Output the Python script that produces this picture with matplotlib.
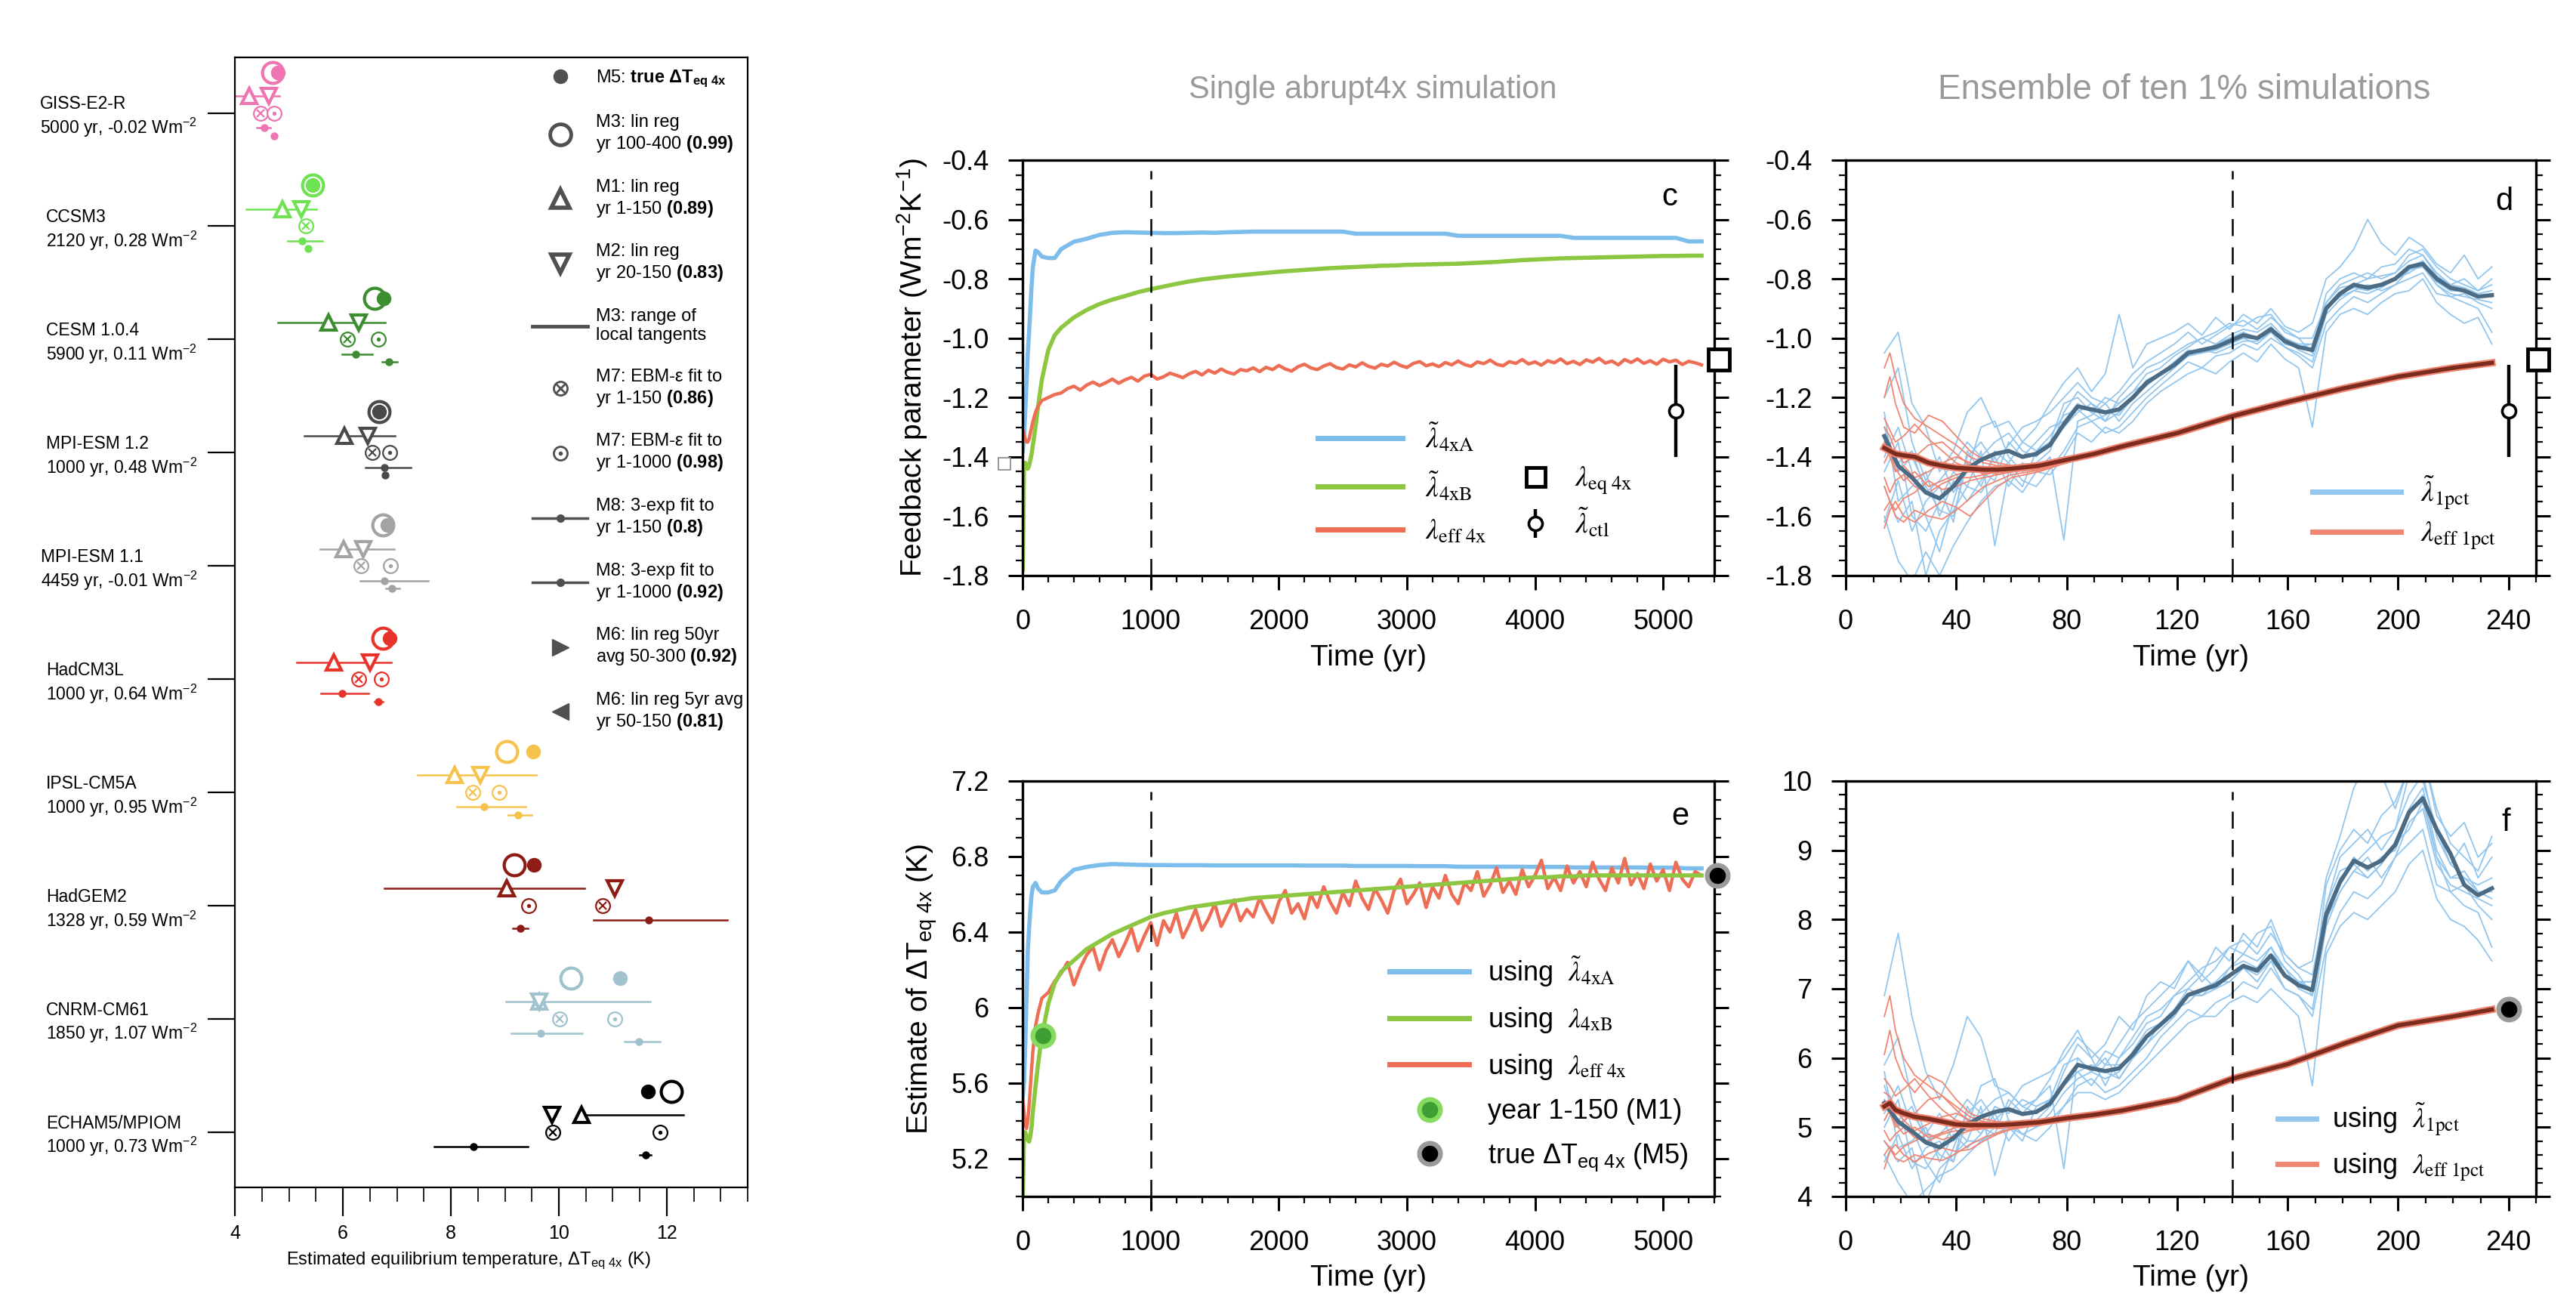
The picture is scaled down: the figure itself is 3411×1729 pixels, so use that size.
import matplotlib
matplotlib.use("Agg")
import matplotlib.pyplot as plt
import numpy as np
from matplotlib.lines import Line2D
from matplotlib.ticker import MultipleLocator

plt.rcParams['font.family'] = ['Liberation Sans', 'DejaVu Sans']
plt.rcParams['mathtext.fontset'] = 'custom'
plt.rcParams['mathtext.rm'] = 'Liberation Sans'
plt.rcParams['mathtext.it'] = 'Liberation Sans:italic'
plt.rcParams['mathtext.bf'] = 'Liberation Sans:bold'
plt.rcParams['mathtext.sf'] = 'Liberation Sans'

# ---------------- left panel: estimates of dT_eq4x per model ----------------
models = ['GISS-E2-R', 'CCSM3', 'CESM 1.0.4', 'MPI-ESM 1.2', 'MPI-ESM 1.1',
          'HadCM3L', 'IPSL-CM5A', 'HadGEM2', 'CNRM-CM61', 'ECHAM5/MPIOM']
run_years = ['5000', '2120', '5900', '1000', '4459', '1000', '1000', '1328', '1850', '1000']
imbalance = ['-0.02', '0.28', '0.11', '0.48', '-0.01', '0.64', '0.95', '0.59', '1.07', '0.73']
model_colors = ['#EE75B2', '#6EE352', '#3C8C30', '#4A4A4A', '#A3A3A3',
                '#E8332A', '#F6C24C', '#8C1C14', '#A0C2CE', '#000000']

dT_true = [4.80, 5.44, 6.75, 6.67, 6.83, 6.86, 9.52, 9.54, 11.13, 11.65]   # M5
dT_m3 = [4.70, 5.44, 6.58, 6.67, 6.74, 6.74, 9.03, 9.18, 10.22, 12.08]
m3_lo = [3.90, 4.21, 4.79, 5.29, 5.58, 5.15, 7.39, 6.77, 9.02, 10.35]
m3_hi = [4.83, 5.51, 6.78, 6.96, 6.95, 6.90, 9.58, 10.48, 11.69, 12.31]
dT_m1 = [4.27, 4.88, 5.74, 6.03, 6.02, 5.83, 8.07, 9.04, 9.64, 10.42]
dT_m2 = [4.63, 5.23, 6.29, 6.46, 6.38, 6.50, 8.55, 11.04, 9.64, 9.87]
dT_m7a = [4.47, 5.32, 6.08, 6.54, 6.33, 6.29, 8.40, 10.81, 10.01, 9.89]
dT_m7b = [4.72, np.nan, 6.66, 6.86, 6.88, 6.71, 8.90, 9.44, 11.04, 11.87]
dT_m8a = [4.54, 5.25, 6.24, 6.77, 6.77, 5.99, 8.62, 11.66, 9.66, 8.42]
m8a_lo = [4.41, 4.98, 5.99, 6.42, 6.32, 5.60, 8.11, 10.64, 9.12, 7.69]
m8a_hi = [4.66, 5.62, 6.55, 7.26, 7.58, 6.48, 9.39, 13.12, 10.44, 9.42]
dT_m8b = [4.73, 5.35, 6.85, 6.78, 6.91, 6.66, 9.25, 9.28, 11.48, 11.61]
m8b_lo = [4.70, 5.33, 6.72, 6.76, 6.80, 6.59, 9.06, 9.15, 11.21, 11.50]
m8b_hi = [4.76, 5.37, 7.00, 6.80, 7.05, 6.74, 9.50, 9.42, 11.87, 11.70]

# ---------------- panels c / e: single abrupt4x run ----------------
t_early = [1, 10, 20, 30, 40, 50, 60, 70, 80, 100, 120, 150, 200, 250]
t4x = t_early + list(range(300, 5301, 100))
t4x_noisy = t_early + list(range(300, 5301, 50))

lam_4xA = [-1.38, -1.33, -1.25, -1.15, -1.05, -0.98, -0.90, -0.82, -0.76, -0.705, -0.71, -0.725, -0.73, -0.73,
           -0.70, -0.675, -0.665, -0.652, -0.645, -0.643, -0.644, -0.645, -0.646, -0.646, -0.645, -0.644,
           -0.645, -0.643, -0.642, -0.641, -0.641, -0.641, -0.641, -0.641, -0.641, -0.641, -0.641,
           -0.648, -0.648, -0.648, -0.648, -0.648, -0.648, -0.648, -0.648,
           -0.655, -0.655, -0.655, -0.655, -0.655, -0.655, -0.655, -0.655, -0.655,
           -0.662, -0.662, -0.662, -0.662, -0.662, -0.662, -0.662, -0.662, -0.662, -0.674, -0.674]
lam_4xB = [-1.78, -1.43, -1.42, -1.43, -1.44, -1.43, -1.41, -1.39, -1.36, -1.30, -1.23, -1.14, -1.04, -0.99,
           -0.965, -0.93, -0.905, -0.885, -0.87, -0.858, -0.845, -0.835, -0.826, -0.817,
           -0.809, -0.802, -0.797, -0.792, -0.788, -0.784, -0.780, -0.776, -0.773, -0.770,
           -0.767, -0.764, -0.762, -0.760, -0.758, -0.756, -0.755, -0.753, -0.752, -0.751,
           -0.750, -0.749, -0.747, -0.745, -0.743, -0.740, -0.737, -0.735, -0.733, -0.731,
           -0.730, -0.729, -0.728, -0.727, -0.726, -0.725, -0.724, -0.723, -0.723, -0.722, -0.722]
lam_eff4x = [-1.31, -1.32, -1.34, -1.35, -1.35, -1.34, -1.32, -1.30, -1.28, -1.25, -1.23, -1.21, -1.20, -1.19,
             -1.185, -1.17, -1.162, -1.175, -1.158, -1.148, -1.16, -1.15, -1.138, -1.152,
             -1.14, -1.132, -1.145, -1.128, -1.122, -1.138, -1.13, -1.118, -1.125, -1.133,
             -1.12, -1.112, -1.124, -1.108, -1.118, -1.104, -1.115, -1.121, -1.106, -1.11,
             -1.10, -1.113, -1.098, -1.106, -1.092, -1.104, -1.111, -1.096, -1.088, -1.10,
             -1.106, -1.094, -1.086, -1.099, -1.104, -1.09, -1.097, -1.083, -1.095, -1.101,
             -1.088, -1.094, -1.081, -1.092, -1.099, -1.085, -1.079, -1.093, -1.087, -1.096,
             -1.082, -1.09, -1.077, -1.089, -1.095, -1.08, -1.086, -1.074, -1.088, -1.093,
             -1.079, -1.085, -1.072, -1.087, -1.08, -1.091, -1.076, -1.083, -1.07, -1.086,
             -1.078, -1.089, -1.073, -1.081, -1.068, -1.084, -1.077, -1.09, -1.072, -1.082,
             -1.07, -1.085, -1.076, -1.088, -1.071, -1.08, -1.074, -1.089, -1.078, -1.083,
             -1.09]
lam_eq4x = -1.071
lam_ctl, lam_ctl_lo, lam_ctl_hi = -1.245, -1.401, -1.090
lam_small_square = -1.423

T_4xA = [5.53, 5.60, 5.80, 6.05, 6.30, 6.42, 6.52, 6.60, 6.64, 6.66, 6.63, 6.61, 6.61, 6.62,
         6.67, 6.73, 6.745, 6.755, 6.76, 6.758, 6.756, 6.755, 6.755, 6.754, 6.754, 6.754,
         6.753, 6.753, 6.753, 6.753, 6.753, 6.753, 6.753, 6.752, 6.752, 6.752, 6.752,
         6.750, 6.750, 6.750, 6.750, 6.750, 6.749, 6.749, 6.749,
         6.746, 6.746, 6.746, 6.746, 6.746, 6.746, 6.745, 6.745, 6.745,
         6.742, 6.742, 6.742, 6.742, 6.742, 6.742, 6.741, 6.741, 6.741, 6.737, 6.737]
T_4xB = [5.00, 5.33, 5.34, 5.32, 5.30, 5.29, 5.32, 5.37, 5.45, 5.58, 5.70, 5.85, 6.02, 6.13,
         6.19, 6.25, 6.31, 6.35, 6.39, 6.42, 6.45, 6.48, 6.50, 6.515,
         6.53, 6.54, 6.55, 6.56, 6.57, 6.58, 6.585, 6.59, 6.595, 6.60,
         6.605, 6.61, 6.615, 6.62, 6.625, 6.63, 6.635, 6.64, 6.645, 6.65,
         6.655, 6.66, 6.665, 6.67, 6.675, 6.68, 6.685, 6.69, 6.69, 6.695,
         6.695, 6.70, 6.70, 6.70, 6.70, 6.70, 6.70, 6.70, 6.70, 6.70, 6.70]
T_eff4x = [5.51, 5.45, 5.38, 5.36, 5.40, 5.48, 5.58, 5.68, 5.77, 5.90, 5.97, 6.05, 6.08, 6.14,
           6.18, 6.24, 6.12, 6.21, 6.28, 6.32, 6.20, 6.30, 6.36, 6.27,
           6.34, 6.42, 6.30, 6.38, 6.45, 6.33, 6.46, 6.40, 6.50, 6.37,
           6.44, 6.52, 6.41, 6.47, 6.55, 6.43, 6.50, 6.57, 6.46, 6.52,
           6.48, 6.58, 6.51, 6.45, 6.56, 6.62, 6.50, 6.55, 6.47, 6.60,
           6.53, 6.64, 6.56, 6.50, 6.61, 6.54, 6.67, 6.58, 6.52, 6.63,
           6.57, 6.50, 6.62, 6.68, 6.55, 6.60, 6.66, 6.53, 6.64, 6.58,
           6.70, 6.60, 6.55, 6.66, 6.62, 6.72, 6.59, 6.65, 6.74, 6.61,
           6.67, 6.60, 6.73, 6.64, 6.70, 6.78, 6.63, 6.69, 6.62, 6.75,
           6.66, 6.72, 6.64, 6.77, 6.68, 6.62, 6.74, 6.66, 6.79, 6.65,
           6.71, 6.63, 6.76, 6.67, 6.73, 6.62, 6.77, 6.68, 6.64, 6.72,
           6.70]
T_m1_year, T_m1 = 160, 5.85
T_true = 6.70

# ---------------- panels d / f: ensemble of ten 1% runs ----------------
ens_years = list(range(14, 235, 5))
lam_1pct_mean = [-1.33, -1.43, -1.47, -1.52, -1.54, -1.50, -1.44, -1.41, -1.39, -1.38,
                 -1.40, -1.39, -1.36, -1.29, -1.23, -1.24, -1.25, -1.24, -1.20, -1.15,
                 -1.12, -1.09, -1.05, -1.04, -1.03, -1.01, -0.99, -1.00, -0.97, -1.01,
                 -1.03, -1.04, -0.90, -0.85, -0.82, -0.83, -0.82, -0.80, -0.76, -0.75,
                 -0.80, -0.83, -0.84, -0.86, -0.855]
lam_1pct_members = [
    [-1.05, -0.98, -1.22, -1.30, -1.45, -1.38, -1.25, -1.20, -1.30, -1.28, -1.35, -1.30, -1.22, -1.15, -1.10,
     -1.18, -1.12, -0.92, -1.10, -1.02, -1.00, -0.98, -0.95, -0.99, -0.93, -0.97, -0.92, -0.95, -0.90, -0.96,
     -0.98, -0.95, -0.80, -0.76, -0.70, -0.60, -0.68, -0.72, -0.66, -0.69, -0.75, -0.78, -0.72, -0.80, -0.76],
    [-1.60, -1.75, -1.82, -1.72, -1.80, -1.70, -1.62, -1.55, -1.50, -1.48, -1.52, -1.45, -1.46, -1.40, -1.32,
     -1.35, -1.30, -1.32, -1.28, -1.22, -1.18, -1.15, -1.12, -1.10, -1.12, -1.08, -1.05, -1.08, -1.02, -1.07,
     -1.10, -1.30, -0.98, -0.92, -0.90, -0.92, -0.88, -0.85, -0.84, -0.80, -0.88, -0.92, -0.95, -0.93, -1.02],
    [-1.20, -1.10, -1.35, -1.48, -1.40, -1.52, -1.45, -1.30, -1.28, -1.40, -1.45, -1.42, -1.38, -1.25, -1.18,
     -1.22, -1.28, -1.20, -1.15, -1.10, -1.08, -1.05, -1.02, -1.00, -0.98, -0.95, -0.96, -0.93, -0.92, -0.98,
     -1.00, -1.05, -0.85, -0.80, -0.78, -0.80, -0.76, -0.75, -0.70, -0.72, -0.78, -0.82, -0.80, -0.84, -0.82],
    [-1.50, -1.62, -1.55, -1.80, -1.65, -1.58, -1.50, -1.52, -1.45, -1.42, -1.48, -1.50, -1.44, -1.38, -1.30,
     -1.28, -1.32, -1.30, -1.25, -1.20, -1.16, -1.12, -1.08, -1.10, -1.06, -1.05, -1.02, -1.04, -1.00, -1.03,
     -1.06, -1.10, -0.95, -0.90, -0.86, -0.88, -0.85, -0.82, -0.80, -0.78, -0.85, -0.86, -0.88, -0.90, -0.98],
    [-1.40, -1.30, -1.45, -1.60, -1.72, -1.55, -1.40, -1.35, -1.42, -1.36, -1.30, -1.28, -1.25, -1.20, -1.15,
     -1.20, -1.22, -1.18, -1.12, -1.08, -1.05, -1.02, -0.98, -1.02, -0.99, -0.96, -0.94, -0.97, -0.93, -0.97,
     -1.00, -1.00, -0.88, -0.82, -0.80, -0.78, -0.80, -0.78, -0.72, -0.70, -0.76, -0.80, -0.82, -0.84, -0.80],
    [-1.25, -1.55, -1.50, -1.45, -1.60, -1.48, -1.55, -1.48, -1.40, -1.50, -1.42, -1.45, -1.40, -1.68, -1.28,
     -1.26, -1.22, -1.28, -1.22, -1.18, -1.14, -1.10, -1.06, -1.05, -1.04, -1.02, -1.00, -1.02, -0.98, -1.03,
     -1.05, -1.08, -0.92, -0.87, -0.84, -0.85, -0.83, -0.80, -0.78, -0.75, -0.82, -0.86, -0.85, -0.88, -0.90],
    [-1.62, -1.48, -1.65, -1.55, -1.50, -1.62, -1.38, -1.45, -1.48, -1.35, -1.40, -1.35, -1.30, -1.28, -1.22,
     -1.25, -1.20, -1.22, -1.18, -1.12, -1.10, -1.06, -1.03, -1.00, -1.02, -0.99, -0.97, -0.98, -0.95, -1.00,
     -1.02, -1.02, -0.88, -0.83, -0.82, -0.80, -0.79, -0.78, -0.74, -0.72, -0.79, -0.82, -0.83, -0.85, -0.84],
    [-1.35, -1.42, -1.38, -1.52, -1.48, -1.42, -1.35, -1.40, -1.35, -1.32, -1.38, -1.40, -1.35, -1.22, -1.20,
     -1.25, -1.28, -1.25, -1.20, -1.14, -1.12, -1.08, -1.04, -1.05, -1.02, -1.00, -0.98, -1.00, -0.96, -1.02,
     -1.03, -1.02, -0.90, -0.85, -0.83, -0.84, -0.82, -0.80, -0.76, -0.74, -0.80, -0.84, -0.84, -0.86, -0.86],
    [-1.45, -1.35, -1.60, -1.65, -1.55, -1.45, -1.50, -1.38, -1.70, -1.45, -1.50, -1.38, -1.35, -1.30, -1.25,
     -1.22, -1.25, -1.26, -1.20, -1.16, -1.12, -1.10, -1.05, -1.04, -1.03, -1.02, -1.00, -1.00, -0.97, -1.00,
     -1.04, -1.06, -0.90, -0.86, -0.84, -0.82, -0.84, -0.82, -0.77, -0.76, -0.82, -0.85, -0.86, -0.87, -0.88],
    [-1.30, -1.45, -1.40, -1.50, -1.58, -1.60, -1.42, -1.50, -1.38, -1.42, -1.35, -1.38, -1.33, -1.26, -1.24,
     -1.28, -1.26, -1.22, -1.18, -1.15, -1.12, -1.08, -1.05, -1.04, -1.05, -1.03, -1.01, -1.01, -0.98, -1.01,
     -1.03, -1.04, -0.90, -0.86, -0.82, -0.83, -0.82, -0.80, -0.76, -0.74, -0.81, -0.84, -0.84, -0.86, -0.86],
]
T_1pct_mean = [5.35, 5.08, 4.94, 4.78, 4.71, 4.84, 5.04, 5.15, 5.22, 5.26,
               5.19, 5.22, 5.34, 5.63, 5.90, 5.85, 5.81, 5.85, 6.05, 6.31,
               6.48, 6.66, 6.91, 6.98, 7.05, 7.19, 7.33, 7.26, 7.48, 7.19,
               7.05, 6.98, 8.07, 8.54, 8.85, 8.75, 8.85, 9.08, 9.55, 9.75,
               9.30, 8.95, 8.50, 8.35, 8.45]
T_1pct_members = [
    [6.9, 7.8, 6.6, 5.8, 5.4, 5.9, 6.6, 6.3, 5.6, 5.5, 5.3, 5.4, 5.7, 6.1, 6.4, 6.0, 6.2, 6.6, 6.4, 6.9, 7.1, 7.0,
     7.4, 7.2, 7.6, 7.4, 7.8, 7.6, 8.0, 7.5, 7.3, 7.4, 8.6, 9.2, 9.9, 10.3, 10.1, 9.6, 10.2, 10.4, 9.5, 9.2, 9.4,
     8.9, 9.1],
    [4.6, 4.2, 3.9, 4.1, 4.3, 4.4, 4.6, 4.8, 4.9, 5.0, 4.9, 5.0, 5.1, 5.3, 5.5, 5.5, 5.4, 5.5, 5.7, 5.9, 6.1, 6.3,
     6.5, 6.6, 6.6, 6.8, 6.9, 6.8, 7.0, 6.8, 6.6, 5.6, 7.5, 7.9, 8.1, 8.0, 8.2, 8.4, 8.8, 9.0, 8.3, 8.0, 7.9,
     7.7, 7.4],
    [5.9, 6.3, 5.4, 4.9, 5.2, 4.8, 5.0, 5.6, 5.7, 5.1, 5.0, 5.1, 5.3, 5.8, 6.2, 6.0, 5.6, 6.0, 6.3, 6.6, 6.7, 6.9,
     7.1, 7.3, 7.4, 7.6, 7.5, 7.8, 7.9, 7.4, 7.2, 6.9, 8.5, 9.0, 9.3, 9.1, 9.5, 9.7, 10.2, 10.0, 9.3, 8.8, 9.1,
     8.6, 8.9],
    [4.8, 4.5, 4.7, 3.9, 4.4, 4.6, 4.8, 4.8, 5.0, 5.1, 4.9, 4.8, 5.0, 5.3, 5.6, 5.7, 5.5, 5.6, 5.8, 6.0, 6.3, 6.5,
     6.7, 6.6, 6.8, 6.9, 7.1, 7.0, 7.3, 7.0, 6.9, 6.6, 7.6, 8.1, 8.4, 8.3, 8.5, 8.9, 9.1, 9.3, 8.5, 8.4, 8.2,
     8.1, 7.6],
    [5.2, 5.6, 5.0, 4.5, 4.2, 4.7, 5.2, 5.4, 5.1, 5.3, 5.6, 5.7, 5.8, 6.0, 6.3, 6.1, 5.9, 6.2, 6.5, 6.7, 6.9, 7.1,
     7.4, 7.1, 7.3, 7.6, 7.7, 7.5, 7.8, 7.5, 7.3, 7.2, 8.2, 8.9, 9.1, 9.3, 9.0, 9.3, 10.1, 10.4, 9.6, 9.1, 8.9,
     8.7, 9.2],
    [5.8, 4.7, 4.8, 5.0, 4.5, 4.9, 4.7, 4.9, 5.2, 4.8, 5.1, 5.0, 5.2, 5.5, 5.7, 5.8, 6.0, 5.7, 6.0, 6.2, 6.4, 6.6,
     6.9, 6.9, 7.0, 7.1, 7.3, 7.1, 7.4, 7.0, 6.9, 6.7, 7.9, 8.4, 8.7, 8.6, 8.8, 9.1, 9.3, 9.7, 8.9, 8.4, 8.5,
     8.2, 8.0],
    [4.5, 4.9, 4.4, 4.7, 4.8, 4.5, 5.3, 5.0, 4.9, 5.4, 5.2, 5.4, 5.6, 4.4, 6.0, 5.8, 6.1, 6.0, 6.2, 6.5, 6.6, 6.9,
     7.0, 7.2, 7.0, 7.3, 7.5, 7.4, 7.6, 7.3, 7.1, 7.1, 8.2, 8.7, 8.8, 9.0, 9.2, 9.3, 9.8, 10.1, 9.2, 8.8, 8.6,
     8.5, 8.6],
    [5.4, 5.1, 5.3, 4.8, 4.9, 5.1, 5.4, 5.2, 5.4, 5.5, 5.3, 5.2, 5.4, 5.9, 6.0, 5.8, 5.7, 5.8, 6.1, 6.4, 6.5, 6.7,
     7.0, 6.9, 7.1, 7.3, 7.4, 7.3, 7.6, 7.2, 7.1, 7.1, 8.0, 8.6, 8.8, 8.6, 8.8, 9.1, 9.6, 9.9, 9.0, 8.6, 8.6,
     8.4, 8.4],
    [5.0, 5.4, 4.5, 4.4, 4.7, 5.0, 4.8, 5.3, 4.3, 5.0, 4.8, 5.3, 5.4, 5.6, 5.8, 5.9, 5.8, 5.7, 6.0, 6.2, 6.5, 6.6,
     6.9, 7.0, 7.1, 7.1, 7.3, 7.3, 7.5, 7.3, 7.0, 6.9, 8.0, 8.4, 8.7, 8.9, 8.6, 8.9, 9.4, 9.6, 8.8, 8.5, 8.4,
     8.3, 8.2],
    [5.6, 5.0, 5.2, 4.9, 4.6, 4.5, 5.1, 4.9, 5.3, 5.2, 5.4, 5.3, 5.4, 5.6, 5.8, 5.6, 5.9, 5.9, 6.0, 6.3, 6.5, 6.7,
     6.8, 7.0, 7.0, 7.2, 7.3, 7.2, 7.4, 7.2, 7.1, 7.0, 8.1, 8.5, 8.9, 8.7, 8.9, 9.0, 9.5, 9.8, 8.9, 8.6, 8.7,
     8.4, 8.3],
]

red_years = [14, 16, 18, 21, 25, 30, 35, 40, 45, 50, 55, 60, 70, 80, 90, 100, 120, 140, 160, 180, 200, 220, 234]
lam_eff1pct_mean = [-1.37, -1.38, -1.39, -1.395, -1.40, -1.42, -1.43, -1.437, -1.44, -1.443, -1.443, -1.44,
                    -1.43, -1.41, -1.39, -1.365, -1.32, -1.263, -1.215, -1.17, -1.13, -1.10, -1.083]
lam_eff1pct_members = [
    [-1.10, -1.05, -1.13, -1.22, -1.27, -1.30, -1.33, -1.36, -1.40, -1.42, -1.43, -1.43, -1.42, -1.40, -1.385,
     -1.36, -1.315, -1.26, -1.212, -1.168, -1.128, -1.098, -1.081],
    [-1.20, -1.13, -1.22, -1.30, -1.32, -1.26, -1.28, -1.33, -1.38, -1.41, -1.42, -1.43, -1.425, -1.405, -1.388,
     -1.362, -1.318, -1.261, -1.214, -1.169, -1.129, -1.099, -1.082],
    [-1.27, -1.31, -1.35, -1.33, -1.29, -1.34, -1.38, -1.42, -1.44, -1.45, -1.44, -1.44, -1.43, -1.41, -1.39,
     -1.365, -1.32, -1.263, -1.215, -1.17, -1.13, -1.10, -1.083],
    [-1.30, -1.33, -1.38, -1.42, -1.40, -1.36, -1.35, -1.39, -1.43, -1.46, -1.45, -1.45, -1.44, -1.415, -1.392,
     -1.367, -1.322, -1.265, -1.217, -1.172, -1.132, -1.102, -1.085],
    [-1.35, -1.40, -1.45, -1.43, -1.47, -1.45, -1.42, -1.40, -1.42, -1.44, -1.46, -1.45, -1.44, -1.42, -1.393,
     -1.368, -1.323, -1.265, -1.216, -1.171, -1.131, -1.101, -1.084],
    [-1.42, -1.38, -1.44, -1.48, -1.45, -1.50, -1.48, -1.46, -1.45, -1.45, -1.44, -1.43, -1.425, -1.405, -1.387,
     -1.362, -1.318, -1.261, -1.213, -1.168, -1.128, -1.098, -1.081],
    [-1.47, -1.52, -1.48, -1.46, -1.50, -1.52, -1.49, -1.47, -1.47, -1.46, -1.45, -1.45, -1.435, -1.413, -1.391,
     -1.366, -1.321, -1.264, -1.216, -1.171, -1.131, -1.101, -1.084],
    [-1.50, -1.55, -1.58, -1.54, -1.52, -1.48, -1.51, -1.50, -1.48, -1.47, -1.46, -1.45, -1.44, -1.415, -1.39,
     -1.364, -1.319, -1.262, -1.214, -1.169, -1.129, -1.099, -1.082],
    [-1.58, -1.55, -1.60, -1.62, -1.58, -1.60, -1.61, -1.58, -1.54, -1.50, -1.48, -1.46, -1.445, -1.42, -1.394,
     -1.368, -1.322, -1.264, -1.216, -1.171, -1.131, -1.101, -1.084],
    [-1.64, -1.58, -1.55, -1.60, -1.62, -1.58, -1.55, -1.57, -1.60, -1.55, -1.50, -1.47, -1.45, -1.42, -1.395,
     -1.369, -1.323, -1.266, -1.218, -1.173, -1.133, -1.103, -1.086],
]
T_eff1pct_mean = [5.30, 5.35, 5.25, 5.20, 5.15, 5.12, 5.08, 5.04, 5.03, 5.03, 5.03, 5.04,
                  5.07, 5.13, 5.18, 5.24, 5.40, 5.70, 5.91, 6.20, 6.47, 6.60, 6.70]
T_eff1pct_members = [
    [6.60, 6.90, 6.40, 6.00, 5.75, 5.60, 5.45, 5.30, 5.15, 5.08, 5.05, 5.05, 5.07, 5.12, 5.17, 5.23, 5.39, 5.69,
     5.90, 6.19, 6.46, 6.59, 6.69],
    [6.05, 6.40, 6.00, 5.70, 5.50, 5.75, 5.65, 5.40, 5.20, 5.12, 5.08, 5.04, 5.06, 5.12, 5.18, 5.24, 5.40, 5.70,
     5.91, 6.20, 6.47, 6.60, 6.70],
    [5.70, 5.60, 5.45, 5.55, 5.70, 5.45, 5.25, 5.10, 5.05, 5.00, 5.02, 5.03, 5.07, 5.13, 5.18, 5.24, 5.40, 5.70,
     5.91, 6.20, 6.47, 6.60, 6.70],
    [5.50, 5.45, 5.25, 5.10, 5.20, 5.40, 5.45, 5.25, 5.07, 4.98, 5.00, 5.02, 5.06, 5.12, 5.17, 5.24, 5.40, 5.70,
     5.91, 6.20, 6.47, 6.60, 6.70],
    [5.30, 5.20, 5.00, 5.10, 4.95, 5.05, 5.15, 5.20, 5.10, 5.02, 4.98, 5.00, 5.05, 5.12, 5.19, 5.25, 5.41, 5.71,
     5.92, 6.21, 6.48, 6.61, 6.71],
    [5.10, 5.25, 5.05, 4.90, 5.00, 4.85, 4.92, 5.00, 5.02, 5.03, 5.04, 5.06, 5.08, 5.14, 5.19, 5.25, 5.41, 5.71,
     5.92, 6.21, 6.48, 6.61, 6.71],
    [4.95, 4.80, 4.90, 5.00, 4.85, 4.80, 4.90, 4.95, 4.96, 5.00, 5.02, 5.03, 5.06, 5.13, 5.18, 5.24, 5.40, 5.70,
     5.91, 6.20, 6.47, 6.60, 6.70],
    [4.80, 4.70, 4.60, 4.72, 4.80, 4.90, 4.82, 4.88, 4.95, 4.98, 5.00, 5.02, 5.06, 5.12, 5.18, 5.24, 5.40, 5.70,
     5.91, 6.20, 6.47, 6.60, 6.70],
    [4.60, 4.72, 4.55, 4.50, 4.60, 4.55, 4.52, 4.62, 4.75, 4.85, 4.92, 4.98, 5.04, 5.11, 5.17, 5.23, 5.39, 5.69,
     5.90, 6.19, 6.46, 6.59, 6.69],
    [4.40, 4.65, 4.75, 4.60, 4.50, 4.62, 4.70, 4.65, 4.68, 4.80, 4.90, 4.97, 5.03, 5.11, 5.17, 5.23, 5.39, 5.69,
     5.90, 6.19, 6.46, 6.59, 6.69],
]

BLUE, GREEN, RED = '#7DBDEB', '#8DC641', '#EE6E55'
LBLUE, LRED = '#92C6EE', '#F08672'
DBLUE, DRED = '#4C6C86', '#7C2C1E'

fig = plt.figure(figsize=(34.11, 17.29), dpi=100)

# ================= left panel =================
ax0 = fig.add_axes([0.0912, 0.0908, 0.1991, 0.8652])
ypos = np.arange(len(models))
off_circ, off_tri, off_m8a, off_m8b = -0.36, -0.15, 0.13, 0.20

for i, c in enumerate(model_colors):
    y = ypos[i]
    ax0.plot([m3_lo[i], m3_hi[i]], [y + off_tri] * 2, color=c, lw=1.8, zorder=2)
    ax0.plot(dT_m1[i], y + off_tri, '^', ms=14, mfc='white', mec=c, mew=3, zorder=3)
    ax0.plot(dT_m2[i], y + off_tri, 'v', ms=14, mfc='white', mec=c, mew=3, zorder=3)
    ax0.plot(dT_m3[i], y + off_circ, 'o', ms=20, mfc='none', mec=c, mew=3, zorder=3)
    ax0.plot(dT_true[i], y + off_circ, 'o', ms=13, color=c, zorder=4)
    ax0.plot(dT_m7a[i], y, 'o', ms=13.5, mfc='white', mec=c, mew=1.6, zorder=3)
    ax0.plot(dT_m7a[i], y, 'x', ms=7.5, mec=c, mew=1.6, zorder=4)
    ax0.plot(dT_m7b[i], y, 'o', ms=13.5, mfc='white', mec=c, mew=1.6, zorder=3)
    ax0.plot(dT_m7b[i], y, 'o', ms=2.8, color=c, zorder=4)
    ax0.plot([m8a_lo[i], m8a_hi[i]], [y + off_m8a] * 2, color=c, lw=1.8, zorder=2)
    ax0.plot(dT_m8a[i], y + off_m8a, 'o', ms=6.5, color=c, zorder=3)
    ax0.plot([m8b_lo[i], m8b_hi[i]], [y + off_m8b] * 2, color=c, lw=1.8, zorder=2)
    ax0.plot(dT_m8b[i], y + off_m8b, 'o', ms=6.5, color=c, zorder=3)

ax0.set_xlim(4, 13.5)
ax0.set_ylim(9.49, -0.49)
ax0.set_xticks([4, 6, 8, 10, 12])
ax0.xaxis.set_minor_locator(MultipleLocator(0.5))
ax0.set_yticks(ypos)
ax0.set_yticklabels([f"{m}\n{yr} yr, {imb} Wm$^{{-2}}$" for m, yr, imb in zip(models, run_years, imbalance)],
                    fontsize=16.5)
for lbl in ax0.get_yticklabels():
    lbl.set_multialignment('left')
ax0.tick_params(axis='y', direction='out', length=26, width=1.6, pad=10)
ax0.tick_params(axis='x', which='major', direction='out', length=27, width=1.6, labelsize=18, pad=8)
ax0.tick_params(axis='x', which='minor', direction='out', length=14, width=1.2)
for s in ax0.spines.values():
    s.set_linewidth(1.6)
ax0.set_xlabel('Estimated equilibrium temperature, $\\mathrm{ΔT_{eq\\ 4x}}$ (K)', fontsize=17)
ax0.xaxis.set_label_coords(0.455, -0.056)

grey = '#505050'
h_circ = Line2D([], [], ls='none', marker='o', ms=13, mfc='none', mec=grey, mew=2)
left_handles = [
    Line2D([], [], ls='none', marker='o', ms=13, color=grey),
    Line2D([], [], ls='none', marker='o', ms=20, mfc='none', mec=grey, mew=3.5),
    Line2D([], [], ls='none', marker='^', ms=17, mfc='none', mec=grey, mew=4),
    Line2D([], [], ls='none', marker='v', ms=17, mfc='none', mec=grey, mew=4),
    Line2D([], [], color=grey, lw=3.5),
    (h_circ, Line2D([], [], ls='none', marker='x', ms=8, mec=grey, mew=2)),
    (h_circ, Line2D([], [], ls='none', marker='o', ms=3, color=grey)),
    Line2D([], [], color=grey, lw=2.5, marker='o', ms=7),
    Line2D([], [], color=grey, lw=2.5, marker='o', ms=7),
    Line2D([], [], ls='none', marker='>', ms=16, color=grey),
    Line2D([], [], ls='none', marker='<', ms=16, color=grey),
]
left_labels = [
    'M5: $\\mathbf{true\\ ΔT_{eq\\ 4x}}$',
    'M3: lin reg\nyr 100-400 $\\mathbf{(0.99)}$',
    'M1: lin reg\nyr 1-150 $\\mathbf{(0.89)}$',
    'M2: lin reg\nyr 20-150 $\\mathbf{(0.83)}$',
    'M3: range of\nlocal tangents',
    'M7: EBM-ε fit to\nyr 1-150 $\\mathbf{(0.86)}$',
    'M7: EBM-ε fit to\nyr 1-1000 $\\mathbf{(0.98)}$',
    'M8: 3-exp fit to\nyr 1-150 $\\mathbf{(0.8)}$',
    'M8: 3-exp fit to\nyr 1-1000 $\\mathbf{(0.92)}$',
    'M6: lin reg 50yr\navg 50-300 $\\mathbf{(0.92)}$',
    'M6: lin reg 5yr avg\nyr 50-150 $\\mathbf{(0.81)}$',
]
ax0.legend(left_handles, left_labels, loc='upper left', bbox_to_anchor=(0.58, 0.99), frameon=False,
           fontsize=17, handlelength=3.1, handletextpad=0.45, labelspacing=1.38, borderpad=0,
           borderaxespad=0)


# ================= right panels =================
def style_panel(ax, xmax, xticks, xminor, ylim, yticks, ylabels, yminor):
    ax.set_xlim(0, xmax)
    ax.set_ylim(*ylim)
    ax.set_xticks(xticks)
    ax.set_xticklabels([str(v) for v in xticks])
    ax.xaxis.set_minor_locator(MultipleLocator(xminor))
    ax.set_yticks(yticks)
    ax.set_yticklabels(ylabels)
    ax.yaxis.set_minor_locator(MultipleLocator(yminor))
    ax.tick_params(which='major', direction='out', length=14, width=2.2, right=True, top=False,
                   labelsize=26, pad=18)
    ax.tick_params(which='minor', direction='out', length=6.5, width=1.6, right=True, top=False)
    for s in ax.spines.values():
        s.set_linewidth(2.4)


lam_ticks = [-0.4, -0.6, -0.8, -1.0, -1.2, -1.4, -1.6, -1.8]
lam_labels = ['-0.4', '-0.6', '-0.8', '-1.0', '-1.2', '-1.4', '-1.6', '-1.8']

# ---- panel c ----
axc = fig.add_axes([0.3970, 0.5593, 0.2685, 0.3181])
lc1, = axc.plot(t4x, lam_4xA, color=BLUE, lw=4)
lc2, = axc.plot(t4x, lam_4xB, color=GREEN, lw=4)
lc3, = axc.plot(t4x_noisy, lam_eff4x, color=RED, lw=3.2)
axc.axvline(1000, ymax=0.975, color='k', lw=1.8, dashes=(9, 6))
axc.plot(5437, lam_eq4x, 's', ms=20, mfc='white', mec='k', mew=3.5, clip_on=False, zorder=5)
ebc = axc.errorbar(5100, lam_ctl, yerr=[[lam_ctl - lam_ctl_lo], [lam_ctl_hi - lam_ctl]], fmt='o', color='k',
                   mfc='white', ms=13, mew=2.6, elinewidth=3.2, capsize=0, zorder=5)
axc.plot(-143, lam_small_square, 's', ms=11, mfc='white', mec='#888888', mew=1.2, clip_on=False)
style_panel(axc, 5400, [0, 1000, 2000, 3000, 4000, 5000], 200, (-1.8, -0.4), lam_ticks, lam_labels, 0.05)
axc.set_xlabel('Time (yr)', fontsize=28, labelpad=8)
axc.set_ylabel('Feedback parameter (Wm$^{-2}$K$^{-1}$)', fontsize=28, labelpad=12)
axc.text(0.935, 0.91, 'c', transform=axc.transAxes, fontsize=30, ha='center', va='center')
leg_c1 = axc.legend([lc1, lc2, lc3],
                    ['$\\tilde{\\lambda}_{\\rm 4xA}$', '$\\tilde{\\lambda}_{\\rm 4xB}$', '$\\lambda_{\\rm eff\\ 4x}$'],
                    loc='lower left', bbox_to_anchor=(0.41, 0.045), frameon=False, fontsize=27,
                    handlelength=3.0, handletextpad=0.8, labelspacing=0.55, borderaxespad=0)
for t in leg_c1.get_texts():
    t.set_math_fontfamily('stix')
for h in leg_c1.get_lines():
    h.set_linewidth(5)
axc.add_artist(leg_c1)
leg_c2 = axc.legend([Line2D([], [], ls='none', marker='s', ms=18, mfc='white', mec='k', mew=3.5), ebc],
                    ['$\\lambda_{\\rm eq\\ 4x}$', '$\\tilde{\\lambda}_{\\rm ctl}$'],
                    loc='lower left', bbox_to_anchor=(0.70, 0.06), frameon=False, fontsize=27,
                    handlelength=1.2, handletextpad=0.8, labelspacing=0.35, borderaxespad=0)
for t in leg_c2.get_texts():
    t.set_math_fontfamily('stix')

# ---- panel d ----
axd = fig.add_axes([0.7165, 0.5593, 0.2680, 0.3181])
for member in lam_1pct_members:
    axd.plot(ens_years, member, color=LBLUE, lw=1.3)
for member in lam_eff1pct_members:
    axd.plot(red_years, member, color=LRED, lw=1.3)
axd.plot(ens_years, lam_1pct_mean, color=DBLUE, lw=4)
axd.plot(red_years, lam_eff1pct_mean, color=LRED, lw=7)
axd.plot(red_years, lam_eff1pct_mean, color=DRED, lw=4)
axd.axvline(140, ymax=0.975, color='k', lw=1.8, dashes=(9, 6))
axd.plot(250.9, lam_eq4x, 's', ms=20, mfc='white', mec='k', mew=3.5, clip_on=False, zorder=5)
axd.errorbar(240, lam_ctl, yerr=[[lam_ctl - lam_ctl_lo], [lam_ctl_hi - lam_ctl]], fmt='o', color='k',
             mfc='white', ms=13, mew=2.6, elinewidth=3.2, capsize=0, zorder=5)
style_panel(axd, 250, [0, 40, 80, 120, 160, 200, 240], 10, (-1.8, -0.4), lam_ticks, lam_labels, 0.05)
axd.set_xlabel('Time (yr)', fontsize=28, labelpad=8)
axd.text(0.954, 0.90, 'd', transform=axd.transAxes, fontsize=30, ha='center', va='center')
leg_d = axd.legend([Line2D([], [], color=LBLUE, lw=5), Line2D([], [], color=LRED, lw=5)],
                   ['$\\tilde{\\lambda}_{\\rm 1pct}$', '$\\lambda_{\\rm eff\\ 1pct}$'],
                   loc='lower left', bbox_to_anchor=(0.66, 0.03), frameon=False, fontsize=27,
                   handlelength=3.1, handletextpad=0.7, labelspacing=0.3, borderaxespad=0)
for t in leg_d.get_texts():
    t.set_math_fontfamily('stix')

# ---- panel e ----
axe = fig.add_axes([0.3970, 0.0839, 0.2685, 0.3181])
axe.plot(t4x, T_4xA, color=BLUE, lw=4)
axe.plot(t4x_noisy, T_eff4x, color=RED, lw=3.2)
axe.plot(t4x, T_4xB, color=GREEN, lw=4)
axe.axvline(1000, ymax=0.975, color='k', lw=1.8, dashes=(9, 6))
axe.plot(T_m1_year, T_m1, 'o', ms=20, mfc='#3D9E33', mec='#86DB5E', mew=4.5, zorder=6)
axe.plot(5424, T_true, 'o', ms=20, mfc='black', mec='#9A9A9A', mew=4.5, clip_on=False, zorder=6)
style_panel(axe, 5400, [0, 1000, 2000, 3000, 4000, 5000], 200, (5.0, 7.2),
            [7.2, 6.8, 6.4, 6.0, 5.6, 5.2], ['7.2', '6.8', '6.4', '6', '5.6', '5.2'], 0.1)
axe.set_xlabel('Time (yr)', fontsize=28, labelpad=8)
axe.set_ylabel('Estimate of $\\mathrm{ΔT_{eq\\ 4x}}$ (K)', fontsize=28, labelpad=12)
axe.text(0.951, 0.914, 'e', transform=axe.transAxes, fontsize=30, ha='center', va='center')
leg_e = axe.legend([Line2D([], [], color=BLUE, lw=5), Line2D([], [], color=GREEN, lw=5),
                    Line2D([], [], color=RED, lw=5),
                    Line2D([], [], ls='none', marker='o', ms=20, mfc='#3D9E33', mec='#86DB5E', mew=4.5),
                    Line2D([], [], ls='none', marker='o', ms=20, mfc='black', mec='#9A9A9A', mew=4.5)],
                   ['using  $\\tilde{\\lambda}_{\\rm 4xA}$', 'using  $\\lambda_{\\rm 4xB}$',
                    'using  $\\lambda_{\\rm eff\\ 4x}$', 'year 1-150 (M1)', 'true ΔT$_{\\rm eq\\ 4x}$ (M5)'],
                   loc='lower left', bbox_to_anchor=(0.515, 0.03), frameon=False, fontsize=26,
                   handlelength=2.9, handletextpad=0.7, labelspacing=0.62, borderaxespad=0)
for t in leg_e.get_texts()[:3]:
    t.set_math_fontfamily('stix')

# ---- panel f ----
axf = fig.add_axes([0.7165, 0.0839, 0.2680, 0.3181])
for member in T_1pct_members:
    axf.plot(ens_years, member, color=LBLUE, lw=1.3)
for member in T_eff1pct_members:
    axf.plot(red_years, member, color=LRED, lw=1.3)
axf.plot(ens_years, T_1pct_mean, color=DBLUE, lw=4)
axf.plot(red_years, T_eff1pct_mean, color=LRED, lw=7)
axf.plot(red_years, T_eff1pct_mean, color=DRED, lw=4)
axf.axvline(140, ymax=0.975, color='k', lw=1.8, dashes=(9, 6))
axf.plot(240.2, T_true, 'o', ms=20, mfc='black', mec='#9A9A9A', mew=4.5, clip_on=False, zorder=6)
style_panel(axf, 250, [0, 40, 80, 120, 160, 200, 240], 10, (4, 10),
            [10, 9, 8, 7, 6, 5, 4], ['10', '9', '8', '7', '6', '5', '4'], 0.2)
axf.set_xlabel('Time (yr)', fontsize=28, labelpad=8)
axf.text(0.956, 0.90, 'f', transform=axf.transAxes, fontsize=30, ha='center', va='center')
leg_f = axf.legend([Line2D([], [], color=LBLUE, lw=5), Line2D([], [], color=LRED, lw=5)],
                   ['using  $\\tilde{\\lambda}_{\\rm 1pct}$', 'using  $\\lambda_{\\rm eff\\ 1pct}$'],
                   loc='lower left', bbox_to_anchor=(0.61, 0.005), frameon=False, fontsize=26,
                   handlelength=1.4, handletextpad=0.6, labelspacing=0.5, borderaxespad=0)
for t in leg_f.get_texts():
    t.set_math_fontfamily('stix')

fig.text(0.533, 0.931, 'Single abrupt4x simulation', fontsize=30, color='#9A9A9A', ha='center', va='center')
fig.text(0.848, 0.931, 'Ensemble of ten 1% simulations', fontsize=33, color='#9A9A9A', ha='center',
         va='center')

fig.savefig('out.png', dpi=100)
